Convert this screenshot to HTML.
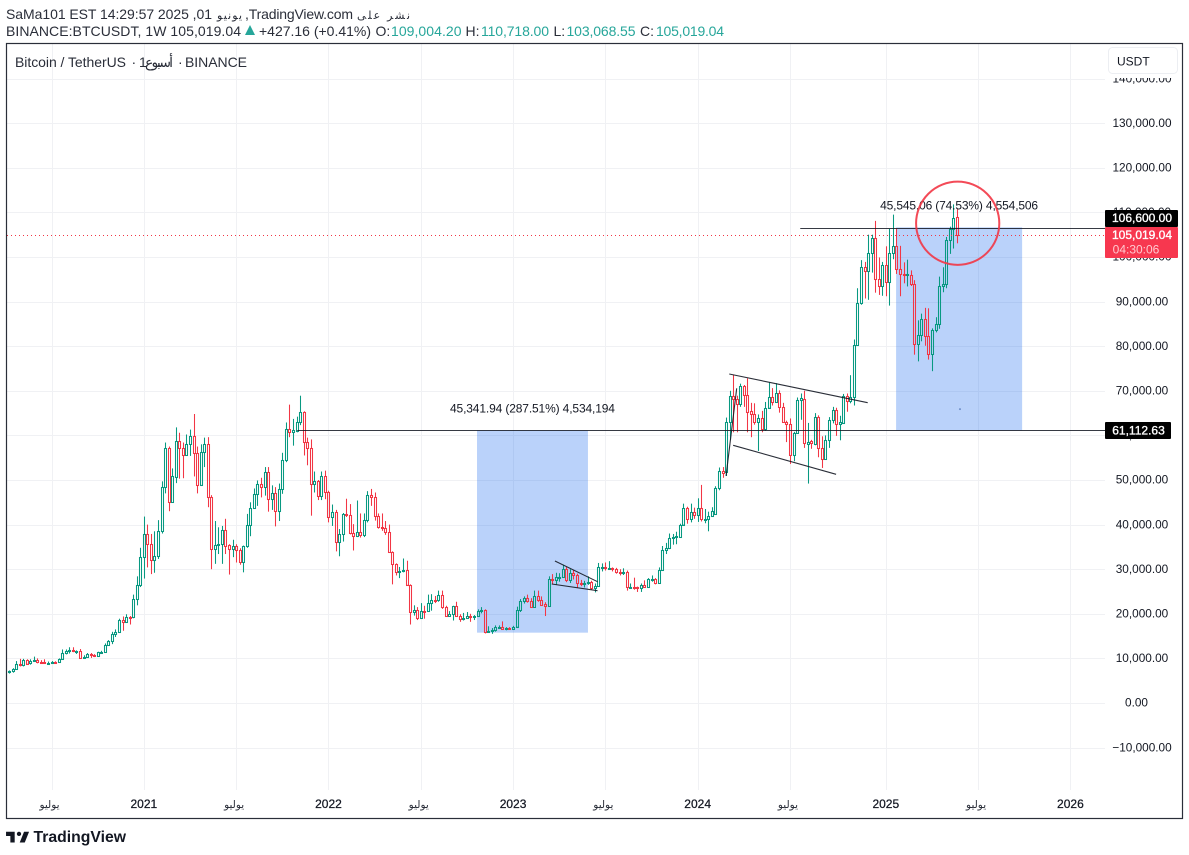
<!DOCTYPE html>
<html lang="en">
<head>
<meta charset="utf-8">
<title>Bitcoin / TetherUS weekly chart</title>
<style>
html,body{margin:0;padding:0;background:#fff;width:1189px;height:855px;overflow:hidden}
svg{display:block;font-family:"Liberation Sans","DejaVu Sans",sans-serif}
</style>
</head>
<body>
<svg id="chart" xmlns="http://www.w3.org/2000/svg" width="1189" height="855" viewBox="0 0 1189 855">
  <rect x="0" y="0" width="1189" height="855" fill="#ffffff"/>
  <g font-size="14" fill="#2a2e39">
    <text x="6" y="19" textLength="206" lengthAdjust="spacing">SaMa101 EST 14:29:57 2025 ,01</text>
    <text x="217" y="19" font-size="11" textLength="25" lengthAdjust="spacing">يونيو</text>
    <text x="245" y="19" textLength="108" lengthAdjust="spacing">,TradingView.com</text>
    <text x="357" y="19" font-size="11" textLength="53" lengthAdjust="spacing">نشر على</text>
    <text x="6" y="36" textLength="235" lengthAdjust="spacing">BINANCE:BTCUSDT, 1W 105,019.04</text>
    <polygon points="245,35 255,35 250,25" fill="#26a69a"/>
    <text x="259" y="36" textLength="112" lengthAdjust="spacing">+427.16 (+0.41%)</text>
    <text x="375.5" y="36">O:</text>
    <text x="391" y="36" fill="#26a69a" textLength="70.5" lengthAdjust="spacing">109,004.20</text>
    <text x="465.5" y="36">H:</text>
    <text x="481" y="36" fill="#26a69a" textLength="68" lengthAdjust="spacing">110,718.00</text>
    <text x="553.5" y="36">L:</text>
    <text x="566.5" y="36" fill="#26a69a" textLength="69" lengthAdjust="spacing">103,068.55</text>
    <text x="640" y="36">C:</text>
    <text x="656" y="36" fill="#26a69a" textLength="68" lengthAdjust="spacing">105,019.04</text>
  </g>
  <g id="grid"></g>
  <g id="boxes"></g>
  <g id="candles"></g>
  <g id="drawings"></g>
  <g id="axes"></g>
  <rect x="1105" y="44" width="77" height="34" fill="#ffffff"/>
  <rect x="6.5" y="43.5" width="1176" height="775" fill="none" stroke="#2a2e39" stroke-width="1.2"/>
  <g font-size="14" fill="#2a2e39">
    <text x="15" y="67" textLength="111" lengthAdjust="spacing">Bitcoin / TetherUS</text>
    <text x="131.5" y="67">·</text>
    <text x="139" y="67" textLength="34" lengthAdjust="spacing">1أسبوع</text>
    <text x="178" y="67">·</text>
    <text x="185" y="67" textLength="62" lengthAdjust="spacing">BINANCE</text>
  </g>
  <g>
    <rect x="1108.5" y="47.5" width="69" height="26" rx="4" fill="#ffffff" stroke="#eceef2"/>
    <text x="1117" y="65.5" font-size="12" fill="#131722">USDT</text>
  </g>
  <g id="tags"></g>
  <g>
    <path transform="translate(4.6 827.4) scale(.72)" fill="#131722" d="M14 6H2v6h6v9h6V6zm14 15h-7l6-15h7l-6 15zm-8-9a3 3 0 1 0 0-6 3 3 0 0 0 0 6z"/>
    <text x="33.5" y="842" font-size="15.5" font-weight="700" fill="#131722" textLength="92.5" lengthAdjust="spacingAndGlyphs">TradingView</text>
  </g>
</svg>
<script>
// Weekly bars in thousands of USDT, first bar on firstBarDate, one bar per week.
const firstBarDate = '2020-04-13';
const opens = [
6.9,7.1,7.7,8.8,8.6,9.7,8.9,9.5,9.7,9.3,
9.2,9.0,9.05,9.3,9.15,9.9,11.1,11.6,11.85,11.65,
11.7,10.2,10.3,11.05,10.8,10.6,11.35,11.5,13.0,13.8,
15.5,16.0,18.7,18.2,19.35,19.2,23.4,26.4,32.7,37.9,
35.7,32.1,33.0,38.5,48.4,57.2,45.0,50.7,58.7,57.2,
55.7,58.1,59.8,56.1,48.9,56.2,58.1,46.3,34.6,35.5,
35.7,38.8,35.5,34.6,35.2,34.2,31.6,35.3,39.8,43.7,
46.9,49.0,48.5,51.7,45.8,47.1,43.0,48.0,54.5,61.4,
60.7,61.0,63.0,65.2,58.5,57.2,49.2,49.7,46.4,50.8,
47.2,41.7,42.8,36.1,37.8,42.4,42.1,38.1,37.5,38.4,
37.7,41.0,46.7,46.2,41.9,39.4,39.3,38.3,33.9,31.2,
29.4,29.5,29.9,26.5,20.4,20.9,19.1,20.7,20.6,22.5,
23.2,23.1,24.3,21.5,19.6,20.0,21.8,19.6,18.8,19.0,
19.5,19.3,19.6,20.6,20.9,16.0,16.2,16.4,17.1,17.1,
16.7,16.8,16.6,17.1,20.8,22.8,23.6,22.9,21.6,24.1,
23.2,22.2,21.8,27.9,27.5,28.2,28.3,30.1,27.6,29.2,
28.8,26.9,26.7,26.8,27.1,25.8,26.3,30.5,30.6,30.3,
30.3,30.1,29.3,29.1,29.3,26.0,26.1,25.95,25.85,26.5,
26.1,27.8,27.9,26.8,29.85,34.4,34.8,37.0,37.2,37.2,
40.0,43.7,41.3,42.8,42.2,43.7,41.3,41.3,42.0,42.4,
48.2,52.1,51.7,63.0,68.9,68.1,67.1,71.1,69.1,65.4,
64.8,63.0,63.9,61.5,66.2,68.5,67.4,69.5,66.3,63.0,
62.6,55.7,60.5,68.0,68.2,58.1,58.7,58.1,64.2,57.2,
54.7,59.0,63.5,65.6,62.6,62.8,68.8,67.7,68.6,80.3,
89.7,97.8,96.9,100.9,104.2,95.0,93.4,98.3,94.5,101.0,
102.5,97.4,96.2,96.1,96.0,94.0,80.6,82.4,86.0,82.3,
78.3,83.7,85.0,93.5,94.0,103.8,106.3,109.004
];
const highs = [
7.3,7.8,9.4,9.9,9.9,9.8,9.8,10.4,10.0,9.6,
9.8,9.3,9.4,9.35,10.0,12.0,12.0,12.5,12.5,11.8,
12.1,10.7,11.2,11.2,10.95,11.5,11.7,13.35,14.1,15.96,
16.5,18.9,19.4,19.9,19.5,24.3,28.4,34.8,41.8,40.0,
37.9,38.5,41.0,49.7,58.4,57.5,52.6,61.8,60.6,58.4,
60.2,61.3,64.8,57.5,58.0,59.5,59.6,46.6,40.8,39.4,
39.7,41.3,35.6,36.6,35.6,34.7,35.3,42.4,45.0,48.1,
49.9,50.5,52.9,52.9,48.8,48.4,49.2,56.1,62.9,66.9,
63.7,64.2,68.9,65.4,59.5,59.1,51.9,50.0,51.9,52.1,
47.6,44.5,43.3,39.0,42.6,45.8,44.6,40.1,45.4,42.5,
42.5,47.5,48.0,47.2,42.5,42.5,40.8,40.0,34.0,31.3,
30.5,32.4,31.9,26.6,21.9,21.5,22.4,21.8,24.3,24.4,
24.0,25.2,25.2,21.8,20.6,21.8,22.7,19.9,20.2,20.4,
20.0,19.7,21.0,21.5,21.0,17.2,16.8,17.4,17.4,18.3,
17.0,17.0,17.3,21.6,23.3,23.9,24.3,23.5,25.2,25.2,
23.9,22.6,28.4,28.9,29.2,29.1,31.0,30.5,30.0,29.8,
29.0,27.6,27.4,28.4,27.4,26.8,31.4,31.3,31.5,31.8,
30.4,30.3,30.0,30.2,29.7,26.8,28.1,26.1,26.8,27.5,
28.0,28.6,28.0,30.4,35.2,35.9,38.0,37.9,38.4,40.2,
44.7,44.0,44.7,43.8,45.9,48.9,43.5,42.9,43.9,48.6,
52.8,52.9,64.0,70.0,73.6,68.9,71.6,71.3,72.8,67.3,
67.2,64.7,65.5,67.5,71.9,70.6,71.7,70.1,67.3,63.3,
63.8,60.8,68.5,69.4,70.0,62.8,59.0,65.0,64.5,59.8,
60.0,64.1,66.4,66.2,64.4,69.3,69.4,73.5,81.5,93.0,
99.3,98.9,105.0,105.0,108.1,99.9,98.9,102.4,106.3,109.5,
106.4,102.5,98.8,99.4,97.0,94.8,85.8,87.3,88.6,88.5,
84.0,86.5,95.6,97.7,104.5,106.8,111.8,110.718
];
const lows = [
6.6,6.8,7.6,8.2,8.2,8.8,8.6,9.3,8.9,8.9,
8.9,8.9,9.0,9.0,9.1,9.9,10.9,11.1,11.4,11.0,
9.9,9.9,10.2,10.1,10.3,10.5,11.2,11.4,12.9,13.2,
14.8,15.9,16.2,18.1,17.6,19.0,21.9,26.0,27.9,30.4,
28.9,29.2,32.3,38.0,47.0,43.0,45.0,49.3,50.3,50.4,
55.5,55.4,50.8,47.0,48.9,52.9,43.9,30.0,31.2,33.4,
31.2,33.4,28.8,32.7,31.5,31.0,29.3,34.8,37.4,43.7,
44.2,46.1,46.5,42.9,43.3,39.6,40.8,46.9,54.0,59.6,
57.7,60.7,62.3,55.5,53.3,42.0,47.2,45.5,45.5,45.7,
40.5,39.7,34.0,32.9,36.2,41.7,37.8,34.2,37.2,37.1,
37.2,40.5,44.2,40.9,39.1,38.6,37.7,33.7,26.6,28.6,
28.0,29.3,26.5,17.6,19.6,18.6,18.9,18.9,20.6,20.7,
22.4,22.7,21.1,19.5,19.5,18.5,19.4,18.2,18.5,19.0,
18.2,18.6,19.3,20.1,15.6,15.8,15.5,16.0,16.8,16.5,
16.3,16.4,16.5,17.1,20.4,22.3,22.5,21.4,21.4,22.7,
21.9,19.5,21.6,26.6,26.5,27.2,28.2,27.1,26.9,27.7,
25.8,26.2,25.9,26.5,25.4,24.8,26.2,29.5,29.7,29.9,
29.5,29.0,28.6,28.7,25.2,25.7,25.4,24.9,24.9,26.0,
26.0,27.2,26.6,26.7,29.8,33.4,34.5,35.5,35.6,37.0,
40.0,40.2,40.5,41.3,40.6,40.7,40.3,38.5,41.9,42.3,
47.7,50.5,50.9,59.0,60.7,60.7,66.4,66.4,60.7,59.6,
62.4,56.5,60.7,61.0,66.2,66.7,67.4,65.1,62.9,58.5,
53.6,54.2,60.5,63.5,57.2,49.2,57.0,57.8,55.1,52.7,
54.7,57.2,62.7,59.9,58.9,62.8,65.3,67.2,66.7,80.2,
89.3,90.7,90.4,96.5,92.0,91.5,91.3,91.2,89.1,99.5,
96.2,91.2,94.1,93.4,93.5,78.1,76.6,81.1,80.1,77.0,
74.4,83.1,83.9,92.1,93.0,100.7,101.9,103.069
];
const closes = [
7.1,7.7,8.8,8.7,9.7,8.8,9.5,9.7,9.2,9.2,
9.0,9.05,9.3,9.15,9.9,11.1,11.6,11.85,11.65,11.7,
10.2,10.3,11.05,10.8,10.6,11.35,11.5,13.0,13.8,15.5,
16.0,18.7,18.2,19.35,19.2,23.4,26.4,32.7,37.9,35.7,
32.1,33.0,38.5,48.4,57.2,45.0,50.9,58.7,57.2,55.7,
58.1,59.8,56.1,48.9,56.3,58.1,46.3,34.6,35.5,35.7,
38.8,35.3,34.6,35.3,34.2,31.6,35.2,39.8,43.7,46.9,
49.0,48.5,51.7,45.8,47.1,43.0,48.0,54.5,61.4,60.7,
61.2,63.0,65.2,58.5,57.2,49.2,49.7,46.4,50.8,47.2,
41.7,42.8,36.1,37.8,42.4,42.1,38.1,37.5,38.4,37.7,
41.0,46.7,46.2,41.9,39.4,39.3,38.3,33.9,31.2,29.4,
29.5,29.9,26.5,20.4,20.9,19.1,20.7,20.6,22.5,23.2,
23.1,24.3,21.5,19.6,20.0,21.8,19.6,18.8,19.0,19.5,
19.3,19.6,20.6,20.9,16.0,16.2,16.4,17.1,17.1,16.7,
16.8,16.6,17.1,20.8,22.8,23.6,22.9,21.6,24.1,23.2,
22.0,21.8,27.9,27.5,28.2,28.3,30.1,27.6,29.2,28.8,
26.9,26.7,26.8,27.1,25.8,26.3,30.5,30.6,30.3,30.3,
30.1,29.3,29.1,29.3,26.0,26.1,25.95,25.85,26.5,26.1,
27.8,27.9,26.8,29.85,34.4,34.8,37.0,37.2,37.4,40.0,
43.7,41.3,42.8,42.2,43.7,41.3,41.3,42.0,43.0,48.2,
52.1,51.6,63.0,68.9,68.1,67.1,71.1,69.1,65.2,64.8,
63.1,63.9,61.5,66.2,68.5,67.4,69.5,66.3,63.0,62.6,
55.7,60.5,68.0,68.3,58.3,58.5,58.4,64.2,57.2,54.7,
59.0,63.5,65.6,62.6,63.0,68.8,67.7,68.6,80.3,89.7,
97.8,96.9,100.9,104.2,95.0,93.4,98.3,94.5,101.0,102.5,
97.4,96.2,96.1,96.3,94.0,80.5,82.4,86.0,82.3,78.3,
83.7,85.0,93.5,94.0,103.8,106.3,108.8,105.019
];
const priceTicks = [-10,0,10,20,30,40,50,60,70,80,90,100,110,120,130,140];
const timeTickDates = ['2020-07-06','2021-01-04','2021-07-05','2022-01-03','2022-07-04','2023-01-02','2023-07-03','2024-01-01','2024-07-01','2025-01-06','2025-07-07','2026-01-05'];
const timeTickLabels = ['يوليو','2021','يوليو','2022','يوليو','2023','يوليو','2024','يوليو','2025','يوليو','2026'];
const levelPrices = [106.6,61.11263];
const levelStartBars = [222.9,81.2];
const levelTexts = ['106,600.00','61,112.63'];
const lastPrice = 105.01904;
const lastPriceText = '105,019.04';
const countdownText = '04:30:06';
const boxStartBars = [131.85,249.9];
const boxEndBars = [163.1,285.4];
const boxTopPrices = [61.11263,106.65769];
const boxBottomPrices = [15.77,61.11263];
const boxTexts = ['45,341.94 (287.51%) 4,534,194','45,545.06 (74.53%) 4,554,506'];
const trendStartBars = [202.9,204.0,202.0,153.8,152.9];
const trendStartPrices = [73.77,57.78,50.9,31.84,26.68];
const trendEndBars = [241.9,233.0,205.0,165.8,165.8];
const trendEndPrices = [67.33,51.28,70.56,27.2,25.18];
const circleBar = 267.25;
const circlePrice = 107.56;
const dotBar = 267.9;
const dotPrice = 65.9;

const SVGNS = 'http://www.w3.org/2000/svg';
const MS_PER_WEEK = 7 * 24 * 3600 * 1000;
const UP = '#089981';
const DOWN = '#f23645';
function xOfBar(i) { return 8.95 + 3.55 * i; }
function barOfDate(d) { return (Date.parse(d) - Date.parse(firstBarDate)) / MS_PER_WEEK; }
function yOfPrice(k) { return 703 - 4.46 * k; }
function make(tag, parent, attrs) {
  const el = document.createElementNS(SVGNS, tag);
  for (const k in attrs) el.setAttribute(k, attrs[k]);
  parent.appendChild(el);
  return el;
}
function fmtTick(k) {
  const s = Math.abs(k * 1000).toLocaleString('en-US', {minimumFractionDigits: 2, maximumFractionDigits: 2});
  return (k < 0 ? '\u2212' : '') + s;
}

const gridG = document.getElementById('grid');
const boxesG = document.getElementById('boxes');
const candlesG = document.getElementById('candles');
const drawG = document.getElementById('drawings');
const axesG = document.getElementById('axes');
const tagsG = document.getElementById('tags');

priceTicks.forEach(function (p) {
  const y = Math.round(yOfPrice(p)) + 0.5;
  const line = make('line', gridG, {x1: 7, x2: 1105, y1: y, y2: y, stroke: '#f0f1f4', 'stroke-width': 1});
  
  
  const t = make('text', axesG, {x: p === 0 ? 1136.5 : 1142, y: yOfPrice(p) + 3.7, 'font-size': 11.8, fill: '#131722', 'text-anchor': 'middle'});
  t.textContent = fmtTick(p);
  
  
});
timeTickDates.forEach(function (d, i) {
  const bar = barOfDate(d);
  const x = Math.round(xOfBar(bar)) + 0.5;
  const line = make('line', gridG, {x1: x, x2: x, y1: 44, y2: 790, stroke: '#f0f1f4', 'stroke-width': 1});
  
  
  const isYear = /^\d+$/.test(timeTickLabels[i]);
  const t = make('text', axesG, {x: xOfBar(bar) - (isYear ? 0 : 2), y: 808, 'font-size': isYear ? 12 : 10.5, fill: isYear ? '#131722' : '#2a2e39', 'text-anchor': 'middle', stroke: isYear ? '#131722' : 'none', 'stroke-width': 0.25});
  t.textContent = timeTickLabels[i];
  
  
});

boxStartBars.forEach(function (b, i) {
  const yTop = yOfPrice(boxTopPrices[i]);
  const xL = xOfBar(b);
  const xR = xOfBar(boxEndBars[i]);
  const r = make('rect', boxesG, {x: xL, y: yTop, width: xR - xL, height: yOfPrice(boxBottomPrices[i]) - yTop, fill: 'rgb(33,110,240)', 'fill-opacity': 0.31});
  
  
});

closes.forEach(function (c, i) {
  const o = opens[i];
  const color = c >= o ? UP : DOWN;
  const cx = Math.round(xOfBar(i));
  const top = Math.round(yOfPrice(Math.max(o, c))) + 0.5;
  const bottom = Math.max(Math.round(yOfPrice(Math.min(o, c))) + 0.5, top + 1);
  const g = make('g', candlesG, {stroke: color, fill: 'none', 'stroke-width': 1.05});
  
  
  make('line', g, {x1: cx + 0.5, x2: cx + 0.5, y1: yOfPrice(highs[i]), y2: top});
  make('line', g, {x1: cx + 0.5, x2: cx + 0.5, y1: bottom, y2: yOfPrice(lows[i])});
  make('rect', g, {x: cx - 0.5, y: top, width: 2, height: bottom - top});
});

const lastY = Math.round(yOfPrice(lastPrice)) + 0.5;
const lastLine = make('line', drawG, {x1: 7, x2: 1105, y1: lastY, y2: lastY, stroke: '#f23645', 'stroke-width': 1, 'stroke-dasharray': '1 3'});



levelPrices.forEach(function (p, i) {
  const y = Math.round(yOfPrice(p)) + 0.5;
  const line = make('line', drawG, {x1: xOfBar(levelStartBars[i]), x2: 1105, y1: y, y2: y, stroke: '#131722', 'stroke-width': 1, 'stroke-opacity': 0.85});
  
  
});
trendStartBars.forEach(function (b, i) {
  const line = make('line', drawG, {x1: xOfBar(b), y1: yOfPrice(trendStartPrices[i]), x2: xOfBar(trendEndBars[i]), y2: yOfPrice(trendEndPrices[i]), stroke: '#131722', 'stroke-width': 1.1, 'stroke-opacity': 0.9});
  
  
});
boxTexts.forEach(function (s, i) {
  const cx = (xOfBar(boxStartBars[i]) + xOfBar(boxEndBars[i])) / 2;
  const t = make('text', drawG, {x: cx, y: yOfPrice(boxTopPrices[i]) - 18, 'font-size': 12, fill: '#131722', 'text-anchor': 'middle', textLength: i === 0 ? 165 : 158, lengthAdjust: 'spacing'});
  t.textContent = s;
  
  
});
const circle = make('circle', drawG, {cx: xOfBar(circleBar), cy: yOfPrice(circlePrice), r: 41.6, fill: 'none', stroke: '#f23645', 'stroke-width': 2, 'stroke-opacity': 0.9});


const dot = make('circle', drawG, {cx: xOfBar(dotBar), cy: yOfPrice(dotPrice), r: 1, fill: '#6f8fc8'});



function tag(name, x, y, w, h, fill) {
  const r = make('rect', tagsG, {x: x, y: y, width: w, height: h, rx: 1, fill: fill});
  
  
}
function tagText(name, s, cx, y, fill, strokeW) {
  const t = make('text', tagsG, {x: cx, y: y, 'font-size': 12, fill: fill, 'text-anchor': 'middle', stroke: fill, 'stroke-width': strokeW});
  t.textContent = s;
  
  
}
tag('target-price-tag', 1105, 210, 73, 17, '#000000');
tagText('target-price-text', levelTexts[0], 1142, 222, '#ffffff', 0.35);
tag('last-price-tag', 1105, 227, 73, 31, '#f7374f');
tagText('last-price-text', lastPriceText, 1142, 239, '#ffffff', 0.35);
tagText('bar-countdown-text', countdownText, 1136, 253.5, '#ffc9cf', 0);
const y61 = yOfPrice(levelPrices[1]);
tag('entry-price-tag', 1105, y61 - 8.5, 66, 17, '#000000');
tagText('entry-price-text', levelTexts[1], 1138.5, y61 + 4.3, '#ffffff', 0.35);
</script>
</body>
</html>
